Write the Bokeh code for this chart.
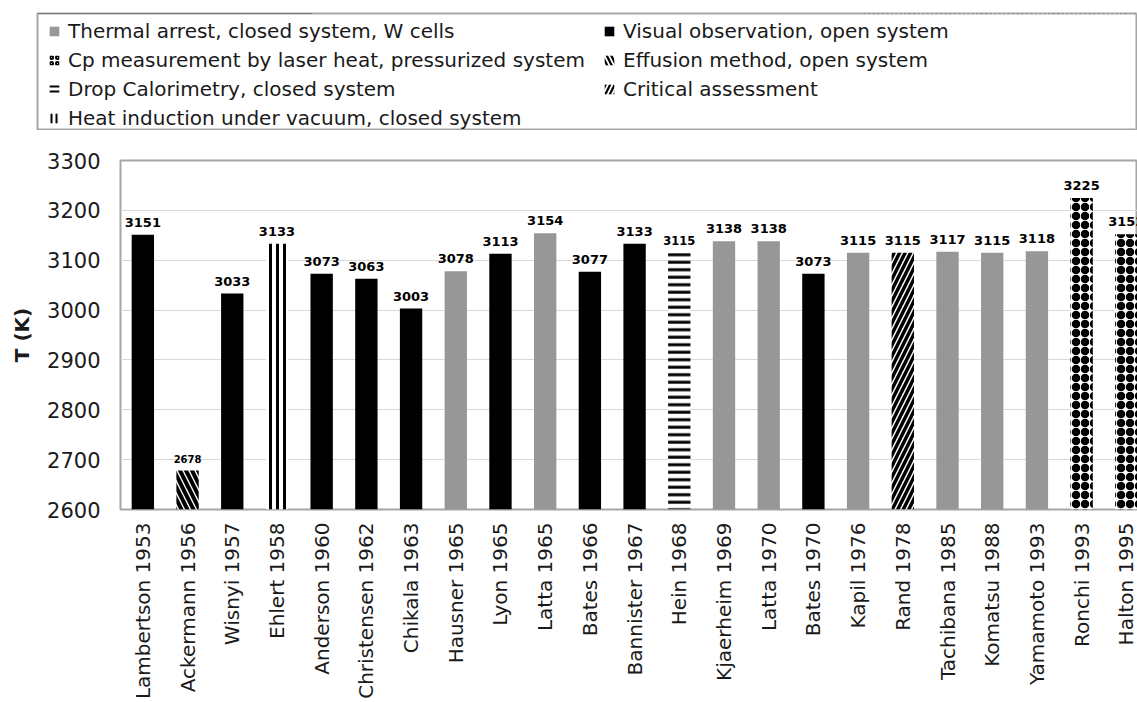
import math
from bokeh.plotting import figure
from bokeh.models import (ColumnDataSource, Range1d, FixedTicker, Legend, LegendItem)
from bokeh.embed import file_html
from bokeh.resources import INLINE
from bokeh.core.properties import value, field

# ---------------- data ----------------
authors = ["Lambertson", "Ackermann", "Wisnyi", "Ehlert", "Anderson", "Christensen",
           "Chikala", "Hausner", "Lyon", "Latta", "Bates", "Bannister", "Hein",
           "Kjaerheim", "Latta", "Bates", "Kapil", "Rand", "Tachibana", "Komatsu",
           "Yamamoto", "Ronchi", "Halton"]
years = [1953, 1956, 1957, 1958, 1960, 1962, 1963, 1965, 1965, 1965, 1966, 1967,
         1968, 1969, 1970, 1970, 1976, 1978, 1985, 1988, 1993, 1993, 1995]
temps = [3151, 2678, 3033, 3133, 3073, 3063, 3003, 3078, 3113, 3154, 3077, 3133,
         3115, 3138, 3138, 3073, 3115, 3115, 3117, 3115, 3118, 3225, 3152]
methods = ["V", "E", "V", "H", "V", "V", "V", "T", "V", "T", "V", "V", "D", "T",
           "T", "V", "T", "C", "T", "T", "T", "P", "P"]

method_keys = ["T", "P", "D", "H", "V", "E", "C"]
method_names = {
    "T": "Thermal arrest, closed system, W cells",
    "P": "Cp measurement by laser heat, pressurized system",
    "D": "Drop Calorimetry, closed system",
    "H": "Heat induction under vacuum, closed system",
    "V": "Visual observation, open system",
    "E": "Effusion method, open system",
    "C": "Critical assessment",
}
y_ticks = [2600, 2700, 2800, 2900, 3000, 3100, 3200, 3300]

# ---------------- styles ----------------
FONT = "DejaVu Sans"
GRAY = "#979797"
FRAME = "#a6a6a6"
TEXT = "#1a1a1a"
# (fill, hatch pattern, bar hatch scale, bar hatch weight, legend hatch scale, legend hatch weight)
styles = {
    "T": (GRAY, " ", 8, 1, 8, 1),
    "V": ("black", " ", 8, 1, 8, 1),
    "P": ("white", "o", 9, 4, 6, 2),
    "D": ("white", "-", 7.5, 3, 5, 2),
    "H": ("white", "|", 7, 3, 5, 2),
    "E": ("white", "\\", 12, 4, 9, 2.2),
    "C": ("white", "/", 11, 3.5, 9, 2.2),
}
label_size_default = "13px"
label_size_special = {1: "10px", 12: "11.5px"}

n = len(authors)
xs = list(range(n))
y0 = y_ticks[0]

LEG_H = 130

# ---------------- main chart ----------------
p = figure(width=1137, height=702 - LEG_H,
           x_range=Range1d(-0.5, 22.25), y_range=Range1d(y_ticks[0], y_ticks[-1]),
           output_backend="svg", toolbar_location=None,
           min_border_left=120, min_border_right=0, min_border_top=30, min_border_bottom=189,
           background_fill_color="white", border_fill_color="white",
           outline_line_color=FRAME, outline_line_width=2)

sources = {}
for k in method_keys:
    idx = [i for i in xs if methods[i] == k]
    sources[k] = ColumnDataSource(dict(x=idx, top=[temps[i] for i in idx]))
    fill, pat, sc, wt, _, _ = styles[k]
    p.vbar(x="x", top="top", bottom=y0, width=0.5, source=sources[k],
           fill_color=fill, line_color=None,
           hatch_pattern=pat, hatch_color="black", hatch_scale=sc, hatch_weight=wt)

lab_src = ColumnDataSource(dict(
    x=xs, y=temps, label=[str(t) for t in temps],
    size=[label_size_special.get(i, label_size_default) for i in xs]))
p.text(x="x", y="y", text="label", source=lab_src, text_align="center",
       text_baseline="bottom", y_offset=-8, text_font=value(FONT),
       text_font_style="bold", text_font_size=field("size"), text_color="black")

p.xgrid.visible = False
p.ygrid.grid_line_color = "#d9d9d9"
p.ygrid.grid_line_width = 1
p.ygrid.ticker = FixedTicker(ticks=y_ticks)

p.yaxis.ticker = FixedTicker(ticks=y_ticks)
p.yaxis.axis_line_color = None
p.yaxis.major_tick_line_color = None
p.yaxis.minor_tick_line_color = None
p.yaxis.major_tick_out = 0
p.yaxis.major_tick_in = 0
p.yaxis.major_label_standoff = 20
p.yaxis.major_label_text_font = FONT
p.yaxis.major_label_text_font_size = "21px"
p.yaxis.major_label_text_color = TEXT
p.yaxis.axis_label = "T (K)"
p.yaxis.axis_label_text_font = FONT
p.yaxis.axis_label_text_font_style = "bold"
p.yaxis.axis_label_text_font_size = "20px"
p.yaxis.axis_label_text_color = TEXT
p.yaxis.axis_label_standoff = 10

p.xaxis.ticker = FixedTicker(ticks=xs)
p.xaxis.major_label_overrides = {i: f"{authors[i]} {years[i]}" for i in xs}
p.xaxis.major_label_orientation = math.pi / 2
p.xaxis.axis_line_color = None
p.xaxis.major_tick_line_color = None
p.xaxis.minor_tick_line_color = None
p.xaxis.major_tick_out = 0
p.xaxis.major_tick_in = 0
p.xaxis.major_label_standoff = 13
p.xaxis.major_label_text_font = FONT
p.xaxis.major_label_text_font_size = "20px"
p.xaxis.major_label_text_color = TEXT

# ---------------- legend panel (its frame is the legend box) ----------------
leg = figure(width=1137, height=LEG_H, x_range=Range1d(0, 1), y_range=Range1d(0, 1),
             x_axis_location=None, y_axis_location=None, toolbar_location=None,
             output_backend="svg", min_border_left=37, min_border_right=0,
             min_border_top=13, min_border_bottom=0,
             outline_line_color=FRAME, outline_line_width=2,
             background_fill_color="white", border_fill_color="white")
for g in leg.grid:
    g.visible = False

items = []
for k in method_keys:
    fill, pat, _, _, lsc, lwt = styles[k]
    # same data sources; the legend panel's ranges keep the bars themselves out of view
    r = leg.vbar(x="x", top="top", bottom=y0, width=0.5, source=sources[k],
                 fill_color=fill, line_color=None,
                 hatch_pattern=pat, hatch_color="black", hatch_scale=lsc, hatch_weight=lwt)
    items.append(LegendItem(label=method_names[k], renderers=[r]))

legend = Legend(items=items, location=(11, 0), orientation="vertical", ncols=2,
                padding=0, margin=0, spacing=5, label_height=22, label_width=530,
                glyph_width=12, glyph_height=12, label_standoff=8,
                label_text_font=FONT, label_text_font_size="20px",
                label_text_color=TEXT,
                border_line_color=None, background_fill_alpha=0)
leg.add_layout(legend, "center")

open("out.html", "w").write(file_html([leg, p], INLINE))
